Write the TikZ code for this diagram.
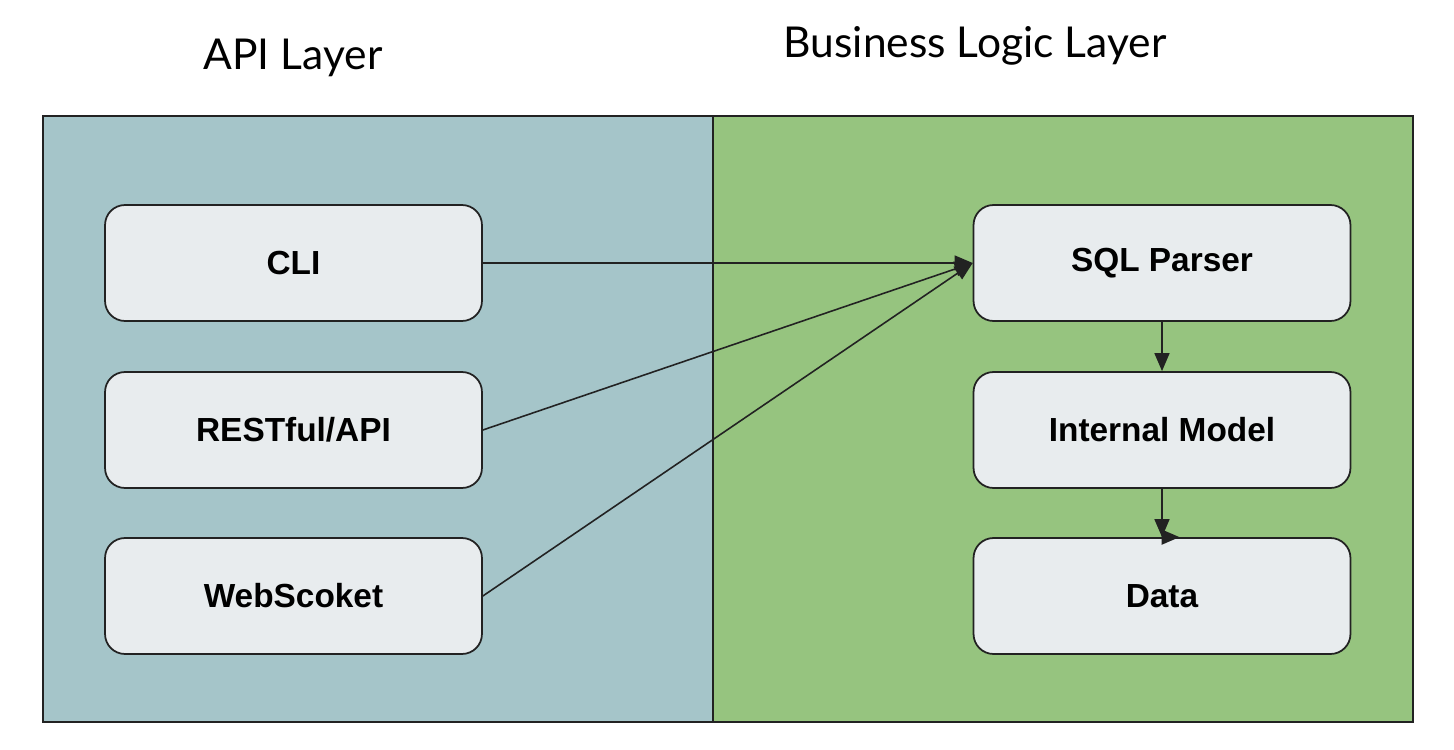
\documentclass[tikz,border=0pt]{standalone}
\usepackage{fontspec}
\setmainfont{Liberation Sans}
\newfontfamily\titlefont{Lato}
\usetikzlibrary{arrows.meta}
\definecolor{apibg}{HTML}{A5C5C9}
\definecolor{bizbg}{HTML}{96C47F}
\definecolor{boxbg}{HTML}{E8ECEE}
\definecolor{edge}{HTML}{222222}
\begin{document}
\begin{tikzpicture}[x=0.02cm,y=-0.02cm,
  panel/.style={draw=edge,line width=1.1pt},
  compbox/.style={draw=edge,fill=boxbg,line width=1pt,rounded corners=0.4cm,
    minimum width=7.54cm,minimum height=2.32cm,inner sep=0pt,
    font=\fontsize{19}{22}\selectfont\bfseries},
  title/.style={font=\titlefont\fontsize{24.2}{28}\selectfont,inner sep=0pt},
  flow/.style={draw=edge,line width=0.9pt,-{Triangle[length=0.36cm,width=0.3cm]}}]
\useasboundingbox (0,0) rectangle (1454,750);
% layer panels
\path[panel,fill=apibg] (43,116) rectangle (713,722);
\path[panel,fill=bizbg] (713,116) rectangle (1413,722);
% layer titles
\node[title] (tapi) at (293,58) {API Layer};
\node[title] (tbiz) at (975,46) {Business Logic Layer};
% API layer components
\node[compbox] (cli)  at (293.5,263) {\raisebox{-2pt}{CLI}};
\node[compbox] (rest) at (293.5,430) {\raisebox{-2pt}{RESTful/API}};
\node[compbox] (ws)   at (293.5,596) {\raisebox{-2pt}{WebScoket}};
% business logic components
\node[compbox] (sql)  at (1162,263) {\raisebox{-2pt}{SQL Parser}};
\node[compbox] (im)   at (1162,430) {\raisebox{-2pt}{Internal Model}};
\node[compbox] (data) at (1162,596) {\raisebox{-2pt}{Data}};
% connectors
\draw[flow] (cli.east) -- (sql.west);
\draw[flow] (rest.east) -- (sql.west);
\draw[flow] (ws.east) -- (sql.west);
\draw[flow] (sql.south) -- (im.north);
\draw[flow] (im.south) -- (data.north);
\draw[flow,shorten >=-2pt] (data.north) -- ++(14,0);
\end{tikzpicture}
\end{document}
